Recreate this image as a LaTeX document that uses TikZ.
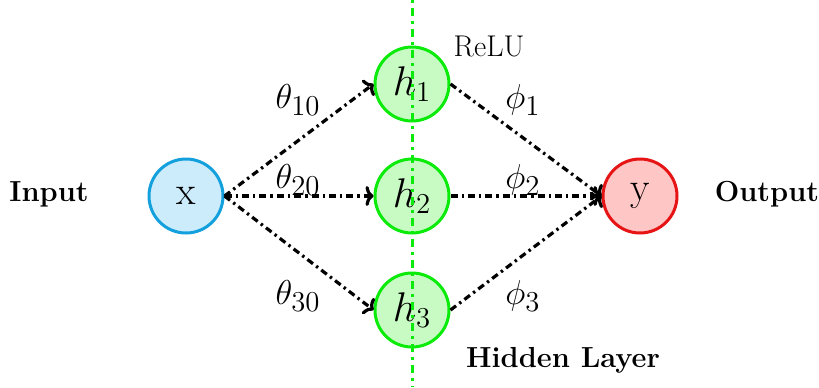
\documentclass[tikz,border=0pt]{standalone}
\usepackage{amsmath}
\usetikzlibrary{arrows.meta}
\definecolor{inblue}{RGB}{20,160,220}
\definecolor{inbluefill}{RGB}{204,236,252}
\definecolor{hgreen}{RGB}{10,235,10}
\definecolor{hgreenfill}{RGB}{200,250,195}
\definecolor{outred}{RGB}{230,20,20}
\definecolor{outredfill}{RGB}{255,198,198}
\tikzset{
  neuron/.style={circle, minimum size=37pt, inner sep=0pt, line width=1.5pt, font=\fontsize{20}{23}\selectfont},
  inneuron/.style={neuron, draw=inblue, fill=inbluefill},
  hidneuron/.style={neuron, draw=hgreen, fill=hgreenfill},
  outneuron/.style={neuron, draw=outred, fill=outredfill},
  conn/.style={line width=1.6pt, dash pattern=on 3.5pt off 2pt on 1.2pt off 2pt, -{To[length=4pt,width=10pt]}},
  wlabel/.style={font=\fontsize{19}{22}\selectfont},
  side/.style={font=\fontsize{14.5}{17}\selectfont\bfseries},
}
\begin{document}
\begin{tikzpicture}[x=0.5pt,y=-0.5pt]
\useasboundingbox (0,0) rectangle (819,387);
\node[inneuron] (x) at (186,196) {x};
\node[hidneuron] (h1) at (412,84) {$h_1$};
\node[hidneuron] (h2) at (412,196) {$h_2$};
\node[hidneuron] (h3) at (412,310) {$h_3$};
\node[outneuron] (y) at (640,196) {y};
\node[side] (in) at (49,194) {Input};
\node[side] (out) at (767,194) {Output};
\node[side] (hl) at (563,360) {Hidden Layer};
\node[font=\fontsize{15}{18}\selectfont] (relu) at (489,46) {ReLU};
\node[wlabel] (t1) at (298,100) {$\theta_{10}$};
\node[wlabel] (t2) at (298,180) {$\theta_{20}$};
\node[wlabel] (t3) at (298,296) {$\theta_{30}$};
\node[wlabel] (p1) at (523,100) {$\phi_1$};
\node[wlabel] (p2) at (523,180) {$\phi_2$};
\node[wlabel] (p3) at (523,296) {$\phi_3$};
\draw[conn] (x.east) -- (h1.west);
\draw[conn] (x.east) -- (h2.west);
\draw[conn] (x.east) -- (h3.west);
\draw[conn] (h1.east) -- (y.west);
\draw[conn] (h2.east) -- (y.west);
\draw[conn] (h3.east) -- (y.west);
\coordinate (top) at (412,0);
\coordinate (bot) at (412,387);
\draw[hgreen, line width=1.5pt, dash pattern=on 1.5pt off 2.5pt on 4pt off 2.5pt] (top) -- (bot);
\end{tikzpicture}
\end{document}
